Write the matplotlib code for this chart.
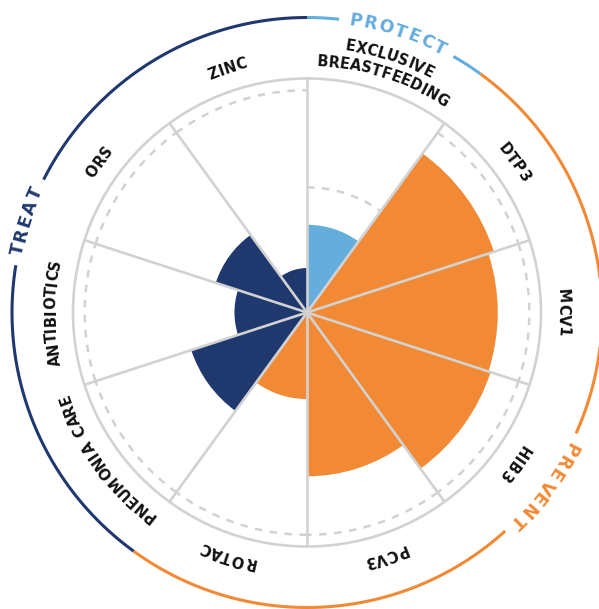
import numpy as np
import matplotlib
matplotlib.use("Agg")
import matplotlib.pyplot as plt
from matplotlib.font_manager import FontProperties, findfont, get_font

# ---------------- data ----------------
categories = ["EXCLUSIVE\nBREASTFEEDING", "DTP3", "MCV1", "HIB3", "PCV3",
              "ROTAC", "PNEUMONIA CARE", "ANTIBIOTICS", "ORS", "ZINC"]
values = [37.5, 84, 81.5, 82.5, 70, 37, 52, 31, 41, 19]
targets = [53.5, 95, 95, 95, 95, 95, 95, 95, 95, 95]
groups = ["PROTECT", "PREVENT", "PREVENT", "PREVENT", "PREVENT",
          "PREVENT", "TREAT", "TREAT", "TREAT", "TREAT"]
group_names = ["PROTECT", "PREVENT", "TREAT"]
group_colors = {"PROTECT": "#65ADDC", "PREVENT": "#F28A35", "TREAT": "#1F386E"}

GRID = "#D2D2D2"
W, H, DPI = 599, 609, 100
cx, cy, R = 307, 312.5, 234  # pixel geometry of the chart
PXU = R / 100.0              # pixels per data unit

fig = plt.figure(figsize=(W / DPI, H / DPI), dpi=DPI)
fig.patch.set_facecolor("white")
ax = fig.add_axes([(cx - R) / W, 1 - (cy + R) / H, 2 * R / W, 2 * R / H],
                  projection="polar")
ax.set_theta_zero_location("N")
ax.set_theta_direction(-1)
ax.set_ylim(0, 100)

n = len(categories)
width = 2 * np.pi / n
lefts = np.arange(n) * width
ax.bar(lefts, values, width=width, align="edge",
       color=[group_colors[g] for g in groups], edgecolor="none",
       linewidth=0, zorder=1)

# target dashed arcs
for i in range(n):
    th = np.linspace(lefts[i], lefts[i] + width, 80)
    ax.plot(th, np.full_like(th, targets[i]), color=GRID, lw=1.8,
            linestyle=(0, (3.0, 3.0)), zorder=2, solid_capstyle="butt")

# spokes and outer circle
ax.set_xticks(lefts)
ax.set_xticklabels([])
ax.set_yticks([])
ax.tick_params(length=0)
ax.grid(axis="x", color=GRID, lw=1.9)
ax.set_axisbelow(False)
ax.spines["polar"].set_color(GRID)
ax.spines["polar"].set_linewidth(1.9)


# ---------------- curved text helper ----------------
def advances(text, fp, space_extra=0.0):
    font = get_font(findfont(fp))
    font.set_size(fp.get_size_in_points(), 72)
    out = []
    for c in text:
        a = font.load_char(ord(c)).linearHoriAdvance / 65536 * DPI / 72
        if c == " ":
            a += space_extra
        out.append(a)
    return out


def text_width(text, fp, tracking=0.0):
    adv = advances(text, fp)
    return sum(adv) + tracking * (len(text) - 1)


def curved_text(text, theta_deg, r_px, fp, color, tracking=0.0, space_extra=0.0):
    adv = advances(text, fp, space_extra)
    total = sum(adv) + tracking * (len(text) - 1)
    cap = 0.73 * fp.get_size_in_points() * DPI / 72
    r_base = (r_px - cap / 2) / PXU
    pos = -total / 2
    for c, a in zip(text, adv):
        s = pos + a / 2
        th = theta_deg + np.degrees(s / r_px)
        if c != " ":
            ax.text(np.radians(th), r_base, c, rotation=-th, rotation_mode="anchor",
                    ha="center", va="baseline", fontproperties=fp, color=color,
                    clip_on=False, zorder=5)
        pos += a + tracking


label_fp = FontProperties(family="DejaVu Sans", weight="bold", size=10.5)
label_r = 257
line_gap = 18
for i, cat in enumerate(categories):
    mid = np.degrees(lefts[i] + width / 2)
    lines = cat.split("\n")
    k = len(lines)
    for j, line in enumerate(lines):
        r = label_r + (k - 1 - j) * line_gap - (k - 1) * line_gap / 2 + (k - 1) * 4
        curved_text(line, mid, r, label_fp, "#111111", tracking=0.3, space_extra=3)

# ---------------- group arcs and labels ----------------
group_fp = FontProperties(family="DejaVu Sans", weight="bold", size=12.5)
arc_r_px = 295
arc_r = arc_r_px / PXU
track = 2.0
for g in group_names:
    idx = [i for i, gg in enumerate(groups) if gg == g]
    start = np.degrees(lefts[idx[0]])
    end = np.degrees(lefts[idx[-1]] + width)
    mid = (start + end) / 2
    half_gap = np.degrees((text_width(g, group_fp, track) / 2 + 10) / arc_r_px)
    for a0, a1 in [(start, mid - half_gap), (mid + half_gap, end)]:
        th = np.radians(np.linspace(a0, a1, 200))
        ax.plot(th, np.full_like(th, arc_r), color=group_colors[g], lw=2.2,
                clip_on=False, solid_capstyle="butt", zorder=3)
    curved_text(g, mid, arc_r_px + 2, group_fp, group_colors[g], tracking=track)

fig.savefig("out.png", dpi=DPI, facecolor="white")
